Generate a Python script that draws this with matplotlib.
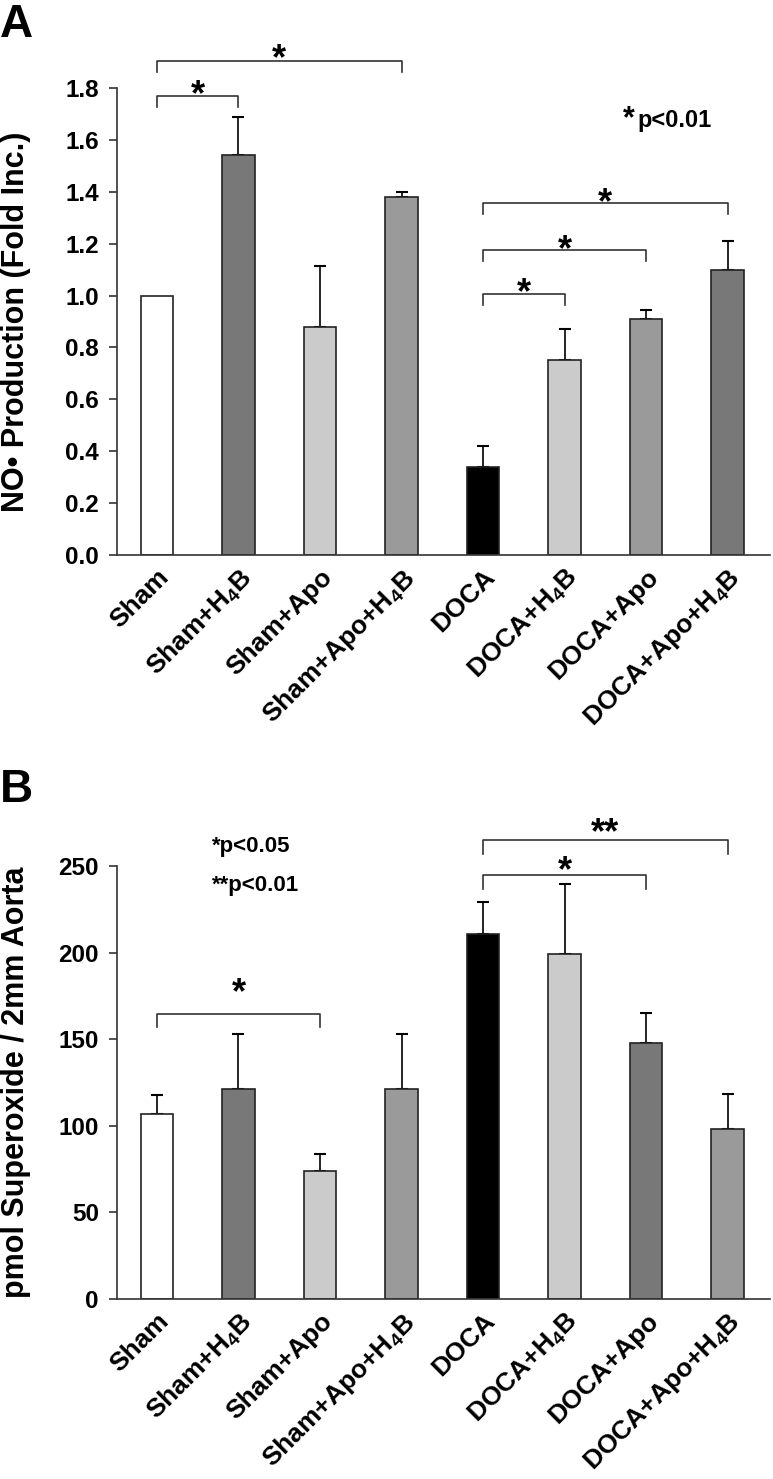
import matplotlib
matplotlib.use("Agg")
import matplotlib.pyplot as plt
import numpy as np

plt.rcParams["font.family"] = ["Liberation Sans", "DejaVu Sans"]
plt.rcParams["font.weight"] = "bold"
plt.rcParams["axes.labelweight"] = "bold"
plt.rcParams["mathtext.fontset"] = "custom"
plt.rcParams["mathtext.rm"] = "Liberation Sans:bold"
plt.rcParams["mathtext.it"] = "Liberation Sans:bold"
plt.rcParams["mathtext.bf"] = "Liberation Sans:bold"

# group names (same in both panels)
groups = ["Sham", r"Sham+H$_4$B", "Sham+Apo", r"Sham+Apo+H$_4$B",
          "DOCA", r"DOCA+H$_4$B", "DOCA+Apo", r"DOCA+Apo+H$_4$B"]

# panel A: NO production, fold increase
no_mean = [1.00, 1.54, 0.88, 1.38, 0.34, 0.75, 0.91, 1.10]
no_err = [0.0, 0.15, 0.235, 0.02, 0.08, 0.12, 0.035, 0.11]
colors_a = ["white", "#787878", "#cbcbcb", "#9a9a9a",
            "black", "#cbcbcb", "#9a9a9a", "#787878"]

# panel B: superoxide, pmol / 2mm aorta
sox_mean = [107, 121, 74, 121, 211, 199, 148, 98]
sox_err = [10.5, 32, 9.5, 32, 18, 40.5, 17, 20.5]
colors_b = ["white", "#787878", "#cbcbcb", "#9a9a9a",
            "black", "#cbcbcb", "#787878", "#9a9a9a"]

# significance brackets: (from, to, height, label, star lift in points)
brackets_a = [(0, 1, 1.77, "*", 0), (0, 3, 1.905, "*", 1),
              (4, 5, 1.007, "*", 0), (4, 6, 1.174, "*", 0), (4, 7, 1.355, "*", 0)]
brackets_b = [(0, 2, 164.8, "*", 14), (4, 6, 245.0, "*", 2), (4, 7, 264.9, "**", 5)]

line_col = "#333333"


def draw_panel(ax, means, errs, colors, top, step, fmt, brackets, drop):
    x = np.arange(len(groups))
    ax.bar(x, means, width=0.40, color=colors, edgecolor="#222222", linewidth=1.2, zorder=2)
    idx = [i for i in range(len(errs)) if errs[i] > 0]
    ax.errorbar(x[idx], np.array(means)[idx], yerr=[np.zeros(len(idx)), np.array(errs)[idx]],
                fmt="none", ecolor="black", elinewidth=1.2, capsize=4.5, capthick=1.5, zorder=1)

    ax.set_xlim(-0.49, 7.52)
    ax.set_ylim(0, top)
    ax.spines["top"].set_visible(False)
    ax.spines["right"].set_visible(False)
    for s in ["left", "bottom"]:
        ax.spines[s].set_color(line_col)
        ax.spines[s].set_linewidth(1.2)
    ax.spines["left"].set_bounds(0, top)

    ax.set_yticks(np.arange(0, top + step / 2, step))
    ax.set_yticklabels([fmt % v for v in np.arange(0, top + step / 2, step)], fontsize=17.5)
    ax.tick_params(axis="y", direction="out", length=6, width=1.2, color=line_col, pad=7)
    ax.set_xticks(x)
    ax.set_xticklabels(groups, rotation=45, ha="right", va="top",
                       rotation_mode="anchor", fontsize=19)
    ax.tick_params(axis="x", length=0, pad=7)

    for i, j, y, lab, lift in brackets:
        ax.plot([i, i, j, j], [y - drop, y, y, y - drop], color=line_col, lw=1.2,
                clip_on=False, zorder=3)
        ax.annotate(lab, xy=((i + j) / 2, y), xytext=(0, lift), textcoords="offset points",
                    ha="center", va="center", fontsize=26, annotation_clip=False)


fig = plt.figure(figsize=(7.73, 14.79), dpi=100)
W, H = 773.0, 1479.0

ax_a = fig.add_axes([117 / W, 1 - 555 / H, 653 / W, 467 / H])
draw_panel(ax_a, no_mean, no_err, colors_a, 1.8, 0.2, "%.1f", brackets_a, 0.042)
ax_a.set_ylabel("NO\u2022 Production (Fold Inc.)", fontsize=22, fontweight="bold")
ax_a.yaxis.set_label_coords(-0.132, 0.5)

ax_b = fig.add_axes([117 / W, 1 - 1299 / H, 653 / W, 433 / H])
draw_panel(ax_b, sox_mean, sox_err, colors_b, 250, 50, "%d", brackets_b, 8)
ax_b.set_ylabel("pmol Superoxide / 2mm Aorta", fontsize=22, fontweight="bold")
ax_b.yaxis.set_label_coords(-0.132, 0.5)

# panel letters
fig.text(0.0, 1 - 37 / H, "A", fontsize=33, va="baseline", ha="left")
fig.text(0.0, 1 - 802 / H, "B", fontsize=33, va="baseline", ha="left")

# p-value notes
fig.text(629 / W, 1 - 119 / H, "*", fontsize=22, ha="center", va="center")
fig.text(637 / W, 1 - 127 / H, "p<0.01", fontsize=17, ha="left", va="baseline")
fig.text(212 / W, 1 - 852 / H, "*p<0.05", fontsize=16, ha="left", va="baseline")
fig.text(212 / W, 1 - 891 / H, "**p<0.01", fontsize=16, ha="left", va="baseline")

fig.savefig("out.png", dpi=100)
